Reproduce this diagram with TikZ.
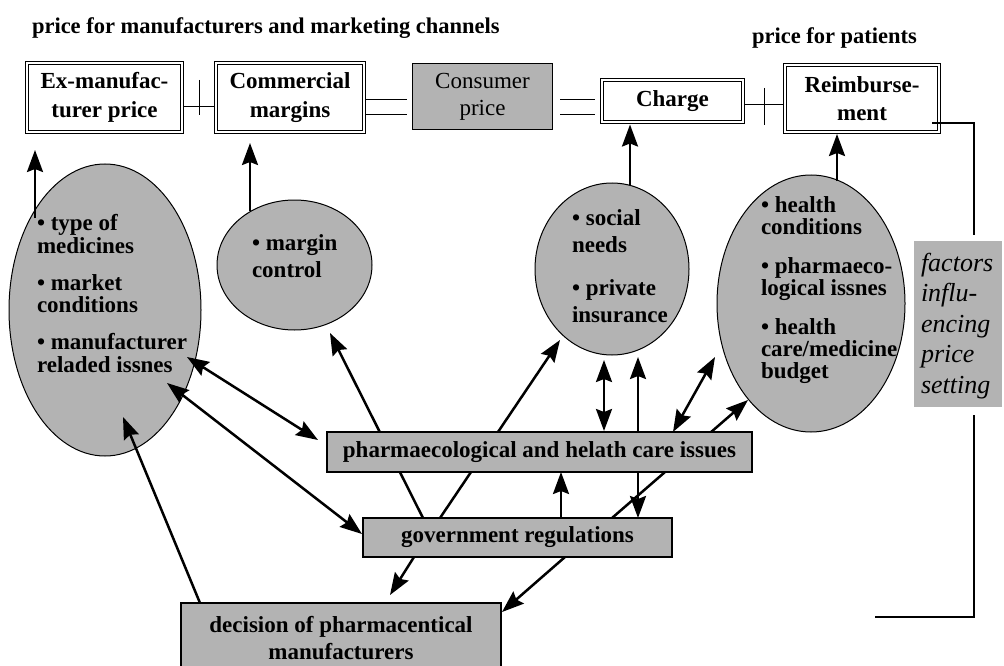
\documentclass[tikz,border=0pt]{standalone}
\usepackage{fontspec}
\setmainfont{Liberation Serif}
\usetikzlibrary{arrows.meta,shapes.geometric,calc}
\definecolor{boxgray}{RGB}{179,179,179}
\newcommand\bxfont{\fontsize{23}{28.5}\selectfont\bfseries}
\newcommand\hdfont{\fontsize{22.5}{26}\selectfont\bfseries}

\begin{document}
\begin{tikzpicture}[x=1pt,y=-1pt,
  dbox/.style={rectangle,draw,line width=0.9pt,double=white,double distance=2.2pt,
    fill=white,inner sep=0pt,outer sep=0pt,align=center,font=\bxfont},
  gbox/.style={rectangle,draw,line width=1.4pt,fill=boxgray,inner sep=0pt,
    outer sep=0pt,align=center,font=\bxfont},
  ell/.style={ellipse,draw,line width=1pt,fill=boxgray,inner sep=0pt,outer sep=0pt},
  tie/.style={line width=1pt},
  bigtip/.tip={Stealth[length=22pt,width=16pt,inset=3pt]},
  arr/.style={line width=2.5pt,-{bigtip}},
  darr/.style={line width=2.5pt,{bigtip}-{bigtip}},
  lbl/.style={anchor=base west,inner sep=0pt,outer sep=0pt}
]
\useasboundingbox (0,0) rectangle (1004,666);

% headings
\node[lbl,font=\hdfont] (h1) at (32,34) {price for manufacturers and marketing channels};
\node[lbl,font=\hdfont] (h2) at (752,44) {price for patients};

% price chain
\node[dbox,minimum width=155pt,minimum height=69pt] (b1) at (104.5,97.5) {Ex-manufac-\\turer price};
\node[dbox,minimum width=148pt,minimum height=69pt] (b2) at (290,97.5) {Commercial\\margins};
\node[gbox,line width=1.2pt,font=\fontsize{23}{27}\selectfont,minimum width=140pt,minimum height=66pt] (b3) at (482.5,96.5) {Consumer\\price};
\node[dbox,minimum width=141pt,minimum height=42pt] (b4) at (672.5,101) {Charge};
\node[dbox,minimum width=154pt,minimum height=67pt] (b5) at (862,98.5) {Reimburse-\\ment};

% links between the price boxes
\coordinate (t12) at ($(b1.east)!0.5!(b2.west)$);
\draw[tie] ($(b1.east)+(2,9.5)$) -- +(30,0);
\draw[tie] ($(t12)+(0,-17.5)$) -- ($(t12)+(0,17.5)$);
\draw[tie] ($(b2.east)+(2,2.5)$) -- +(41,0);
\draw[tie] ($(b2.east)+(2,17.5)$) -- +(41,0);
\draw[tie] ($(b3.east)+(7.5,3.5)$) -- +(35,0);
\draw[tie] ($(b3.east)+(7.5,18.5)$) -- +(35,0);
\draw[tie] ($(b4.east)+(2,4)$) -- +(38,0);
\draw[tie] ($(b4.east)+(21,-13)$) -- +(0,37);

% factors box and frame line
\node[rectangle,fill=boxgray,minimum width=88pt,minimum height=166pt,inner sep=0pt,outer sep=0pt] (fac) at (958,324) {};
\node[lbl] (ft) at (921,271) {\parbox[t]{80pt}{\raggedright\fontsize{26}{30.5}\selectfont\itshape
  factors\\influ-\\encing\\price\\setting}};
\coordinate (fr1) at ($(fac.north)+(16,-6)$);
\coordinate (fr2) at ($(fac.south)+(16,8)$);
\coordinate (fr3) at (875,617);
\draw[tie,line width=1.1pt] ($(b5.south east)+(-7,-9)$) -| (fr1);
\draw[tie,line width=1.1pt] (fr2) |- (fr3);

% factor ellipses
\node[ell,minimum width=192pt,minimum height=292pt] (e1) at (105,310) {};
\node[ell,minimum width=155pt,minimum height=130pt] (e2) at (294.5,265) {};
\node[ell,minimum width=154pt,minimum height=172pt] (e3) at (612,269) {};
\node[ell,minimum width=188pt,minimum height=257pt] (e4) at (811,303.5) {};

\node[lbl] (t1) at (37,230.5) {\parbox[t]{180pt}{\raggedright\fontsize{23}{22.7}\selectfont\bfseries
  • type of\\medicines\\[14.3pt]• market\\conditions\\[14.3pt]• manufacturer\\reladed issnes}};
\node[lbl] (t2) at (252,250.5) {\parbox[t]{120pt}{\raggedright\fontsize{23}{26.7}\selectfont\bfseries
  • margin\\control}};
\node[lbl] (t3) at (572,225.5) {\parbox[t]{120pt}{\raggedright\fontsize{23}{27}\selectfont\bfseries
  • social\\needs\\[16pt]• private\\insurance}};
\node[lbl] (t4) at (761,212.5) {\parbox[t]{160pt}{\raggedright\fontsize{23}{22}\selectfont\bfseries
  • health\\conditions\\[17pt]• pharmaeco-\\logical issnes\\[17pt]• health\\care/medicine\\budget}};

% lower boxes
\node[gbox,minimum width=309pt,minimum height=39pt] (gov) at (517.5,537.5) {government regulations};
\node[gbox,minimum width=320pt,minimum height=71pt,font=\fontsize{23}{27}\selectfont\bfseries] (dec) at (341,638.5) {decision of pharmacentical\\manufacturers};

% arrows passing behind the issues box
\draw[arr] ($(gov.north west)+(60,0)$) -- ($(e2.center)+(35.5,68)$);
\draw[arr] ($(gov.north west)+(77,0)$) -- ($(e3.center)+(-52,71)$);
\draw[darr] ($(gov.north west)+(275,0)$) -- ($(e3.center)+(26,88)$);
\draw[arr] ($(gov.north west)+(249,0)$) -- ($(e4.center)+(-63,96.5)$);

\node[gbox,minimum width=425pt,minimum height=40pt] (phar) at (539.5,452) {pharmaecological and helath care issues};

% arrows up to the price boxes
\draw[arr] ($(e1.center)+(-70,-92)$) -- ($(b1.south west)+(8,18)$);
\draw[arr] ($(e2.center)+(-44.5,-54)$) -- ($(b2.south west)+(34,11)$);
\draw[arr] ($(e3.center)+(18,-84)$) -- ($(b4.south west)+(28,2.5)$);
\draw[arr] ($(e4.center)+(26,-122.5)$) -- ($(b5.south west)+(52,2)$);

% remaining influences
\draw[darr] ($(e1.center)+(82,47)$) -- ($(phar.north west)+(-9,8)$);
\draw[darr] ($(e1.center)+(62,73)$) -- ($(gov.west)+(-1,-3.5)$);
\draw[arr] ($(dec.north west)+(19,0)$) -- ($(e1.center)+(18,107)$);
\draw[arr] ($(gov.north west)+(198,0)$) -- ($(phar.south west)+(234,0)$);
\draw[darr] ($(phar.north west)+(277,-1)$) -- ($(e3.center)+(-8,91)$);
\draw[darr] ($(phar.north west)+(346,0)$) -- ($(e4.center)+(-96,53.5)$);
\draw[arr] ($(gov.south west)+(51,0)$) -- ($(dec.north west)+(209,-8)$);
\draw[arr] ($(gov.south west)+(202,0)$) -- ($(dec.north east)+(1,9)$);
\end{tikzpicture}
\end{document}
